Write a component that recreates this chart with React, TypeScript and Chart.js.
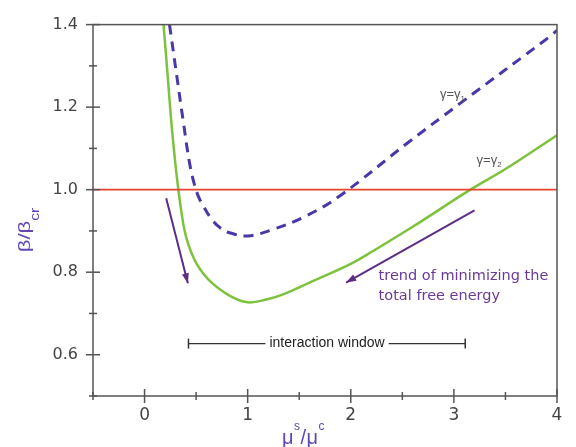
import { useEffect, useRef } from 'react';
import Chart from 'chart.js/auto';

// ---- data ----
const GAMMA2_X = [0.184, 0.223, 0.261, 0.300, 0.329, 0.358, 0.387, 0.426, 0.484, 0.542, 0.620, 0.707, 0.833, 1.0, 1.2, 1.35, 1.6, 2.0, 2.22, 2.6, 3.16, 3.5, 4.0];
const GAMMA2_Y = [1.40, 1.280, 1.160, 1.060, 0.998, 0.945, 0.902, 0.866, 0.830, 0.806, 0.782, 0.763, 0.742, 0.727, 0.735, 0.747, 0.775, 0.82, 0.852, 0.91, 1.0, 1.05, 1.132];
const GAMMA1_X = [0.242, 0.310, 0.378, 0.436, 0.484, 0.523, 0.571, 0.658, 0.736, 0.833, 1.0, 1.25, 1.58, 1.90, 2.55, 3.06, 3.93, 4.0];
const GAMMA1_Y = [1.40, 1.280, 1.161, 1.065, 1.012, 0.983, 0.960, 0.926, 0.907, 0.895, 0.888, 0.904, 0.938, 0.986, 1.113, 1.209, 1.371, 1.386];
const REF_X = [-0.5, 4];
const REF_Y = [1, 1];
const ARROW_LEFT_X = [0.21, 0.42];
const ARROW_LEFT_Y = [0.979, 0.773];
const ARROW_RIGHT_X = [3.2, 1.955];
const ARROW_RIGHT_Y = [0.95, 0.775];
const WINDOW_X = [0.426, 3.11];
const WINDOW_Y = [0.627, 0.627];
const Y_TICK_LABELS = ['0.6', '0.8', '1.0', '1.2', '1.4'];
const X_TICK_LABELS = ['0', '1', '2', '3', '4'];
const WINDOW_LABEL = 'interaction window';
const TREND_LABEL = ['trend of minimizing the', 'total free energy'];
const CURVE_LABELS = [
  { main: 'γ=γ', sub: '1', x: 2.865, y: 1.232 },
  { main: 'γ=γ', sub: '2', x: 3.22, y: 1.072 },
];
const WINDOW_LABEL_X = 1.77;
const TREND_POS = { x: 2.27, y: [0.79, 0.742] };

const FONT = '"Liberation Sans", Arial, Helvetica, sans-serif';
const WIDE = '"DejaVu Sans", Verdana, sans-serif';
const GREEN = '#7cc23c';
const DASH = '#4a38a8';
const RED = '#e8432c';
const ARROW = '#5c2d86';
const TITLE = '#6247b4';
const AXIS = '#555555';

const pts = (xs: number[], ys: number[]) => xs.map((x, i) => ({ x, y: ys[i] }));

function head(ctx: CanvasRenderingContext2D, x0: number, y0: number, x1: number, y1: number, len: number, w: number) {
  const a = Math.atan2(y1 - y0, x1 - x0);
  const c = Math.cos(a), s = Math.sin(a);
  ctx.beginPath();
  ctx.moveTo(x1, y1);
  ctx.lineTo(x1 - len * c + w * s, y1 - len * s - w * c);
  ctx.lineTo(x1 - len * c - w * s, y1 - len * s + w * c);
  ctx.closePath();
  ctx.fill();
}

const overlay = {
  id: 'overlay',
  afterDatasetsDraw(chart: any) {
    const { ctx, scales } = chart;
    const x = scales.x, y = scales.y;
    ctx.save();
    // arrow heads
    ctx.fillStyle = ARROW;
    head(ctx, x.getPixelForValue(ARROW_LEFT_X[0]), y.getPixelForValue(ARROW_LEFT_Y[0]),
      x.getPixelForValue(ARROW_LEFT_X[1]), y.getPixelForValue(ARROW_LEFT_Y[1]), 10, 3.5);
    head(ctx, x.getPixelForValue(ARROW_RIGHT_X[0]), y.getPixelForValue(ARROW_RIGHT_Y[0]),
      x.getPixelForValue(ARROW_RIGHT_X[1]), y.getPixelForValue(ARROW_RIGHT_Y[1]), 10, 3.5);
    // window caps
    ctx.strokeStyle = '#333';
    ctx.lineWidth = 1.5;
    for (const v of WINDOW_X) {
      const px = x.getPixelForValue(v), py = y.getPixelForValue(WINDOW_Y[0]);
      ctx.beginPath();
      ctx.moveTo(px, py - 5);
      ctx.lineTo(px, py + 5);
      ctx.stroke();
    }
    // window label
    ctx.font = `14px ${FONT}`;
    const tx = x.getPixelForValue(WINDOW_LABEL_X), ty = y.getPixelForValue(WINDOW_Y[0]);
    const tw = ctx.measureText(WINDOW_LABEL).width;
    ctx.fillStyle = '#ffffff';
    ctx.fillRect(tx - tw / 2 - 4, ty - 7, tw + 8, 14);
    ctx.fillStyle = '#222';
    ctx.textAlign = 'center';
    ctx.textBaseline = 'middle';
    ctx.fillText(WINDOW_LABEL, tx, ty);
    // trend label
    ctx.font = `14.5px ${WIDE}`;
    ctx.fillStyle = '#6a3a96';
    ctx.textAlign = 'left';
    TREND_LABEL.forEach((t, i) => {
      ctx.fillText(t, x.getPixelForValue(TREND_POS.x), y.getPixelForValue(TREND_POS.y[i]));
    });
    // curve labels
    ctx.fillStyle = '#555';
    for (const c of CURVE_LABELS) {
      const lx = x.getPixelForValue(c.x), ly = y.getPixelForValue(c.y);
      ctx.font = `13px ${FONT}`;
      ctx.textBaseline = 'middle';
      ctx.fillText(c.main, lx, ly);
      const w = ctx.measureText(c.main).width;
      ctx.font = `8px ${FONT}`;
      ctx.fillText(c.sub, lx + w, ly + 5);
    }
    ctx.restore();
  },
  afterDraw(chart: any) {
    const { ctx, chartArea, scales } = chart;
    const { left, right, top, bottom } = chartArea;
    const x = scales.x, y = scales.y;
    ctx.save();
    ctx.strokeStyle = AXIS;
    ctx.lineWidth = 1.5;
    ctx.strokeRect(left, top, right - left, bottom - top);
    x.ticks.forEach((t: any) => {
      const px = x.getPixelForValue(t.value);
      const h = t.label ? 7 : 4;
      ctx.beginPath();
      ctx.moveTo(px, bottom - h);
      ctx.lineTo(px, bottom + h);
      ctx.stroke();
    });
    y.ticks.forEach((t: any) => {
      const py = y.getPixelForValue(t.value);
      const h = t.label ? 7 : 4;
      ctx.beginPath();
      ctx.moveTo(left - h, py);
      ctx.lineTo(left + h, py);
      ctx.stroke();
    });
    // y title
    ctx.save();
    ctx.translate(30, 230);
    ctx.rotate(-Math.PI / 2);
    ctx.scale(1.3, 1);
    ctx.fillStyle = TITLE;
    ctx.font = `17px ${FONT}`;
    const m = 'β/β';
    const mw = ctx.measureText(m).width;
    ctx.font = `12px ${FONT}`;
    const sw = ctx.measureText('cr').width;
    const start = -(mw + sw) / 2;
    ctx.textAlign = 'left';
    ctx.textBaseline = 'alphabetic';
    ctx.font = `17px ${FONT}`;
    ctx.fillText(m, start, 0);
    ctx.font = `12px ${FONT}`;
    ctx.fillText('cr', start + mw, 9);
    ctx.restore();
    // x title
    ctx.fillStyle = TITLE;
    ctx.textAlign = 'left';
    ctx.textBaseline = 'alphabetic';
    let cx = 282;
    const base = 444;
    const parts: [string, number, number][] = [['μ', 20, 0], ['s', 12, -14], ['/', 20, 0], ['μ', 20, 0], ['c', 12, -14]];
    for (const [t, sz, dy] of parts) {
      ctx.font = `${sz}px ${FONT}`;
      ctx.fillText(t, cx, base + dy);
      cx += ctx.measureText(t).width + 0.5;
    }
    ctx.restore();
  },
};

export default function App() {
  const ref = useRef<HTMLCanvasElement | null>(null);
  useEffect(() => {
    if (!ref.current) return;
    const chart = new Chart(ref.current, {
      type: 'line',
      data: {
        datasets: [
          { data: pts(REF_X, REF_Y), borderColor: RED, borderWidth: 1.8, pointRadius: 0 },
          { data: pts(GAMMA1_X, GAMMA1_Y), borderColor: DASH, borderWidth: 3, borderDash: [10, 7], pointRadius: 0, tension: 0.4 },
          { data: pts(GAMMA2_X, GAMMA2_Y), borderColor: GREEN, borderWidth: 2.5, pointRadius: 0, tension: 0.4 },
          { data: pts(ARROW_LEFT_X, ARROW_LEFT_Y), borderColor: ARROW, borderWidth: 2, pointRadius: 0 },
          { data: pts(ARROW_RIGHT_X, ARROW_RIGHT_Y), borderColor: ARROW, borderWidth: 2, pointRadius: 0 },
          { data: pts(WINDOW_X, WINDOW_Y), borderColor: '#333', borderWidth: 1.2, pointRadius: 0 },
        ],
      },
      options: {
        animation: false,
        responsive: true,
        maintainAspectRatio: false,
        layout: { padding: { left: 0, top: 20, right: 19, bottom: 0 } },
        plugins: { legend: { display: false }, tooltip: { enabled: false } },
        scales: {
          x: {
            type: 'linear',
            min: -0.5,
            max: 4,
            grid: { display: false, drawTicks: false },
            border: { display: false },
            ticks: {
              stepSize: 0.5,
              autoSkip: false,
              maxRotation: 0,
              padding: 9,
              color: '#444',
              font: { family: WIDE, size: 17 },
              callback: (v: any) => {
                const n = Math.round(Number(v) * 2);
                return n % 2 === 0 && n >= 0 ? X_TICK_LABELS[n / 2] : '';
              },
            },
            afterFit: (s: any) => { s.height = 51; },
          },
          y: {
            type: 'linear',
            min: 0.5,
            max: 1.4,
            grid: { display: false, drawTicks: false },
            border: { display: false },
            ticks: {
              stepSize: 0.1,
              autoSkip: false,
              padding: 15,
              color: '#444',
              font: { family: WIDE, size: 16 },
              callback: (v: any) => {
                const n = Math.round(Number(v) * 10);
                return n % 2 === 0 && n >= 6 ? Y_TICK_LABELS[(n - 6) / 2] : '';
              },
            },
            afterFit: (s: any) => { s.width = 93; },
          },
        },
      },
      plugins: [overlay],
    });
    return () => chart.destroy();
  }, []);
  return (
    <div style={{ position: 'absolute', left: 0, top: 0, width: 576, height: 447 }}>
      <canvas ref={ref} />
    </div>
  );
}
